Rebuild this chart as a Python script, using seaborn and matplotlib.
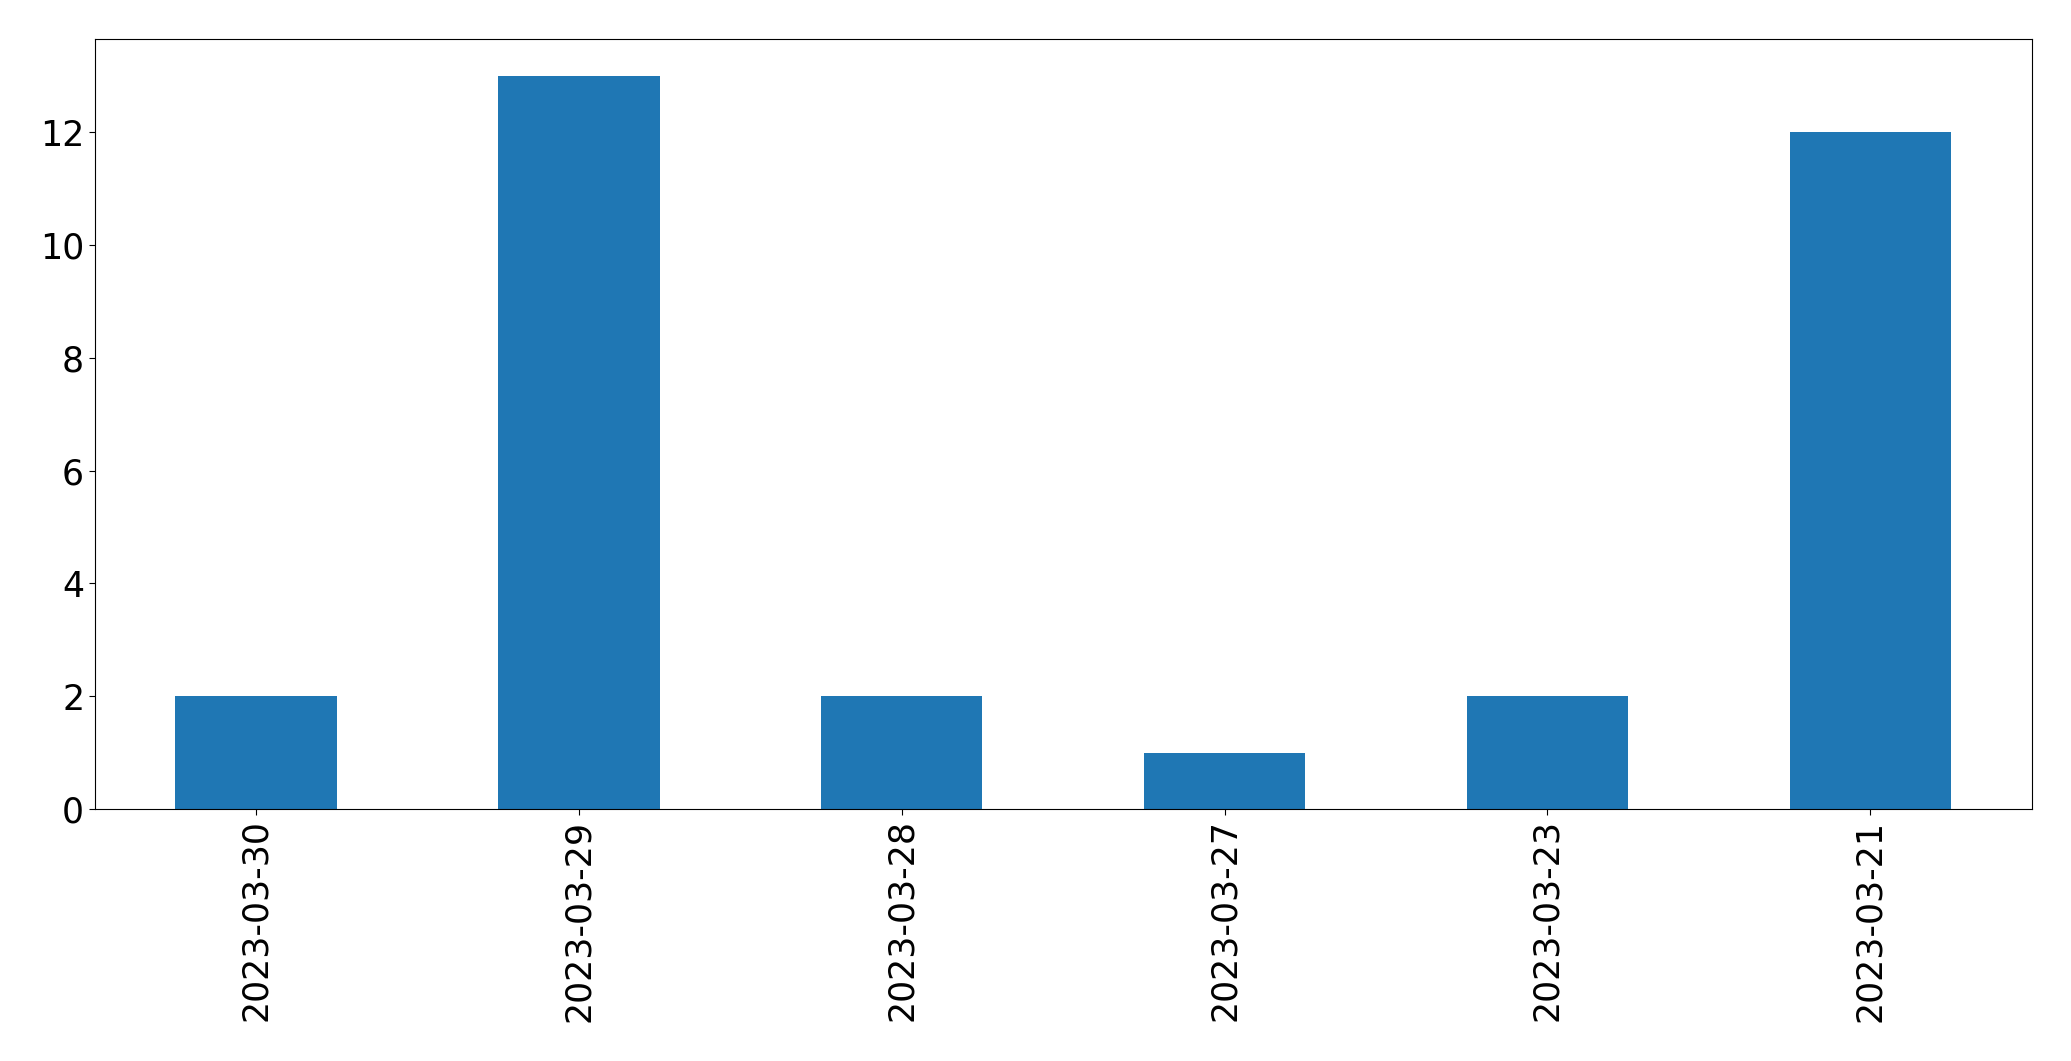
import pandas as pd
import seaborn as sns
import matplotlib
matplotlib.use("Agg")
import matplotlib.pyplot as plt

# ---------------------- Data ------------------------
dates = ["2023-03-30", "2023-03-29", "2023-03-28", "2023-03-27", "2023-03-23", "2023-03-21"]
counts = [2, 13, 2, 1, 2, 12]

df = pd.DataFrame({"date": dates, "count": counts})

# ---------------------- Plot ------------------------
fig = plt.figure(figsize=(20.71, 10.61), dpi=100)
ax = fig.add_axes([0.0457, 0.2375, 0.9353, 0.7255])

sns.barplot(data=df, x="date", y="count", order=dates, color="#1f77b4",
            saturation=1, width=0.5, linewidth=0, ax=ax)

ax.set_xlim(-0.5, len(dates) - 0.5)
ax.set_ylim(0, max(counts) * 1.05)
ax.set_xlabel("")
ax.set_ylabel("")
ax.tick_params(axis="both", labelsize=25, length=4)
plt.setp(ax.get_xticklabels(), rotation=90)

fig.savefig("out.png", dpi=100)
